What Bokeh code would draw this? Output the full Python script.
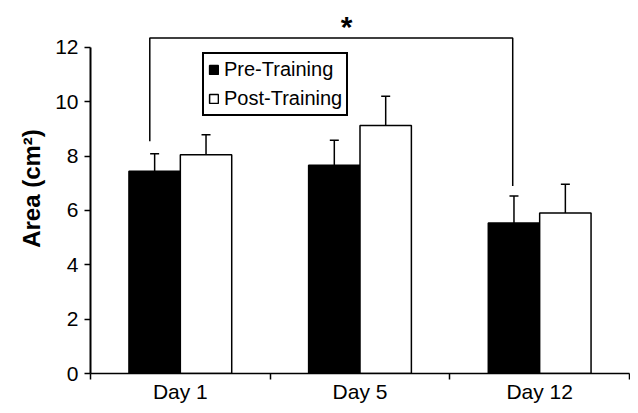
from bokeh.plotting import figure
from bokeh.models import (ColumnDataSource, Whisker, TeeHead, Legend, LegendItem,
                          FixedTicker, Range1d)
from bokeh.core.properties import value
from bokeh.embed import file_html
from bokeh.resources import INLINE

# ---- data ----
days = ["Day 1", "Day 5", "Day 12"]
pre_training = [7.44, 7.66, 5.54]
pre_err = [0.64, 0.92, 0.99]
post_training = [8.05, 9.12, 5.90]
post_err = [0.73, 1.08, 1.06]
y_ticks = [0, 2, 4, 6, 8, 10, 12]
sig_x = [0.33, 0.33, 2.35, 2.35]
sig_y = [8.54, 12.34, 12.34, 6.90]
sig_label = ["*"]
sig_label_x = [1.425]
sig_label_y = [12.76]

FONT = "Liberation Sans"
centers = [i + 0.5 for i in range(len(days))]
bw = 0.286
pre_x = [c - bw / 2 for c in centers]
post_x = [c + bw / 2 for c in centers]

src_pre = ColumnDataSource(dict(x=pre_x, top=pre_training,
                                upper=[v + e for v, e in zip(pre_training, pre_err)]))
src_post = ColumnDataSource(dict(x=post_x, top=post_training,
                                 upper=[v + e for v, e in zip(post_training, post_err)]))

p = figure(width=630, height=405, output_backend="svg", toolbar_location=None,
           x_range=Range1d(0, 3), y_range=Range1d(0, 13.61),
           min_border_left=90, min_border_right=1, min_border_top=3, min_border_bottom=30)
p.outline_line_color = None
p.grid.visible = False
p.background_fill_color = "white"
p.border_fill_color = "white"

r_pre = p.vbar(x="x", top="top", width=bw, source=src_pre,
               fill_color="black", line_color="black", line_width=1.5)
r_post = p.vbar(x="x", top="top", width=bw, source=src_post,
                fill_color="white", line_color="black", line_width=1.5)

for src in (src_pre, src_post):
    w = Whisker(base="x", lower="top", upper="upper", source=src,
                upper_head=TeeHead(size=9, line_width=1.5, line_color="black"),
                lower_head=None, line_color="black", line_width=1.5)
    p.add_layout(w)

# significance bracket
p.line(sig_x, sig_y, line_color="black", line_width=1.5)
p.text(x=sig_label_x, y=sig_label_y, text=sig_label, text_align="center",
       text_baseline="middle", text_font=value(FONT), text_font_size="30px",
       text_font_style="bold", text_color="black")

# axes
xa = p.xaxis[0]
xa.ticker = FixedTicker(ticks=centers, minor_ticks=[0, 1, 2, 3])
xa.major_label_overrides = {c: d for c, d in zip(centers, days)}
xa.major_tick_out = 0
xa.major_tick_in = 0
xa.minor_tick_out = 6
xa.minor_tick_in = 0
xa.minor_tick_line_color = "black"
xa.minor_tick_line_width = 1.5
xa.axis_line_color = "black"
xa.axis_line_width = 1.5
xa.bounds = (0, 3)
xa.major_label_text_font = FONT
xa.major_label_text_font_size = "21px"
xa.major_label_text_line_height = 1.0
xa.major_label_text_color = "black"
xa.major_label_standoff = 0

ya = p.yaxis[0]
ya.ticker = FixedTicker(ticks=y_ticks)
ya.minor_tick_line_color = None
ya.major_tick_out = 6
ya.major_tick_in = 0
ya.major_tick_line_width = 1.5
ya.major_tick_line_color = "black"
ya.axis_line_color = "black"
ya.axis_line_width = 2
ya.bounds = (0, 12)
ya.major_label_text_font = FONT
ya.major_label_text_font_size = "21px"
ya.major_label_text_color = "black"
ya.major_label_standoff = 6
ya.axis_label = "Area (cm²)"
ya.axis_label_text_font = FONT
ya.axis_label_text_font_size = "24px"
ya.axis_label_text_font_style = "bold"
ya.axis_label_text_color = "black"
ya.axis_label_standoff = 7

legend = Legend(items=[LegendItem(label="Pre-Training", renderers=[r_pre]),
                       LegendItem(label="Post-Training", renderers=[r_post])],
                location=(112, 257), orientation="vertical",
                glyph_width=11, glyph_height=11, label_height=22, spacing=6,
                padding=4, label_standoff=5, margin=0,
                border_line_color="black", border_line_width=2, border_line_alpha=1,
                background_fill_color="white", background_fill_alpha=1,
                label_text_font=FONT, label_text_font_size="20px",
                label_text_color="black")
p.add_layout(legend)

open("out.html", "w").write(file_html(p, INLINE))
